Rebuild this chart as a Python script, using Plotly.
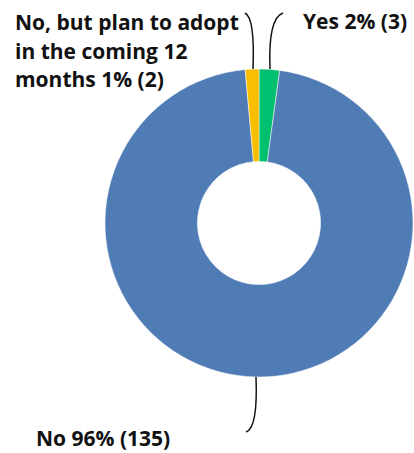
import plotly.graph_objects as go

labels = ["Yes", "No", "No, but plan to adopt<br>in the coming 12<br>months"]
counts = [3, 135, 2]
colors = ["#00BF6F", "#507CB6", "#F9BE00"]

W, H = 414, 453
total = sum(counts)
texts = [f"{l} {round(c / total * 100)}% ({c})" for l, c in zip(labels, counts)]

def px(x):
    return x / W

def py(y):
    return 1 - y / H

fig = go.Figure(go.Pie(
    labels=labels, values=counts, sort=False, direction="clockwise", rotation=0,
    hole=0.4, marker=dict(colors=colors, line=dict(color="white", width=0.5)),
    textinfo="none", hoverinfo="label+value+percent", showlegend=False,
    domain=dict(x=[px(105), px(413)], y=[py(377), py(69)]),
))

font = dict(family="Open Sans", size=21, color="#111111", weight=700)
ann = []
# (text index, left x, first-line center y, line step)
placements = [(0, 301, 21, 28.5), (2, 13, 22, 28.5), (1, 34, 438, 28.5)]
for i, x, y, step in placements:
    for k, line in enumerate(texts[i].split("<br>")):
        ann.append(dict(text=line, x=px(x), y=py(y + k * step), xanchor="left",
                        yanchor="middle", align="left", xref="paper", yref="paper",
                        showarrow=False, font=font))

def path(pts):
    (x0, y0), (cx, cy), (x1, y1) = pts
    return f"M {px(x0)},{py(y0)} Q {px(cx)},{py(cy)} {px(x1)},{py(y1)}"

lines = [
    [(270, 69), (268, 18), (283, 13)],
    [(253, 69), (255, 18), (245, 13)],
    [(256, 377), (258, 428), (246, 432)],
]
shapes = [dict(type="path", xref="paper", yref="paper", path=path(p),
               line=dict(color="#111111", width=1.5)) for p in lines]

fig.update_layout(width=W, height=H, margin=dict(l=0, r=0, t=0, b=0),
                  paper_bgcolor="white", plot_bgcolor="white",
                  annotations=ann, shapes=shapes)
fig.write_html("out.html", config={"displayModeBar": False},
               post_script="document.body.style.margin='0';")
